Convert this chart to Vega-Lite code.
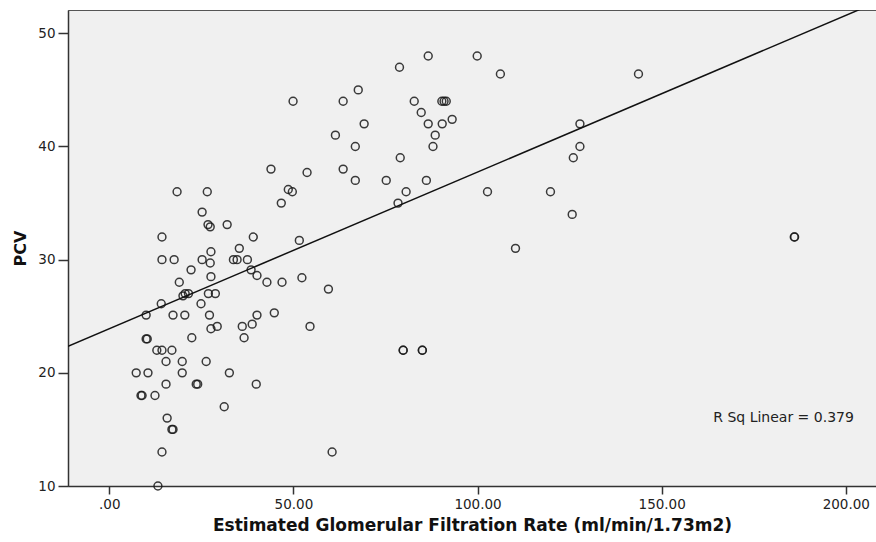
{
  "$schema": "https://vega.github.io/schema/vega-lite/v6.json",
  "width": 808,
  "height": 476,
  "autosize": {"type": "none"},
  "padding": {"left": 68, "top": 10, "right": 0, "bottom": 56},
  "background": "white",
  "config": {
    "view": {"fill": "#F0F0F0", "stroke": "#555555", "strokeWidth": 1},
    "font": "DejaVu Sans"
  },
  "datasets": {
    "pts": [
      {"egfr": 49.9, "pcv": 44.0}, {"egfr": 43.9, "pcv": 38.0}, {"egfr": 53.7, "pcv": 37.7}, {"egfr": 18.4, "pcv": 36.0},
      {"egfr": 26.6, "pcv": 36.0}, {"egfr": 48.6, "pcv": 36.2}, {"egfr": 49.7, "pcv": 36.0}, {"egfr": 46.7, "pcv": 35.0},
      {"egfr": 25.2, "pcv": 34.2}, {"egfr": 26.8, "pcv": 33.1}, {"egfr": 27.4, "pcv": 32.9}, {"egfr": 32.0, "pcv": 33.1},
      {"egfr": 14.3, "pcv": 32.0}, {"egfr": 39.1, "pcv": 32.0}, {"egfr": 51.6, "pcv": 31.7}, {"egfr": 27.6, "pcv": 30.7},
      {"egfr": 35.3, "pcv": 31.0}, {"egfr": 14.3, "pcv": 30.0}, {"egfr": 17.6, "pcv": 30.0}, {"egfr": 25.2, "pcv": 30.0},
      {"egfr": 33.7, "pcv": 30.0}, {"egfr": 34.7, "pcv": 30.0}, {"egfr": 37.5, "pcv": 30.0}, {"egfr": 27.4, "pcv": 29.7},
      {"egfr": 22.2, "pcv": 29.1}, {"egfr": 38.5, "pcv": 29.1}, {"egfr": 40.1, "pcv": 28.6}, {"egfr": 27.6, "pcv": 28.5},
      {"egfr": 19.0, "pcv": 28.0}, {"egfr": 42.8, "pcv": 28.0}, {"egfr": 46.9, "pcv": 28.0}, {"egfr": 52.3, "pcv": 28.4},
      {"egfr": 20.0, "pcv": 26.8}, {"egfr": 20.6, "pcv": 27.0}, {"egfr": 21.5, "pcv": 27.0}, {"egfr": 26.9, "pcv": 27.0},
      {"egfr": 28.8, "pcv": 27.0}, {"egfr": 59.5, "pcv": 27.4}, {"egfr": 14.1, "pcv": 26.1}, {"egfr": 24.9, "pcv": 26.1},
      {"egfr": 10.0, "pcv": 25.1}, {"egfr": 17.3, "pcv": 25.1}, {"egfr": 20.5, "pcv": 25.1}, {"egfr": 27.2, "pcv": 25.1},
      {"egfr": 40.1, "pcv": 25.1}, {"egfr": 44.8, "pcv": 25.3}, {"egfr": 27.6, "pcv": 23.9}, {"egfr": 29.3, "pcv": 24.1},
      {"egfr": 36.1, "pcv": 24.1}, {"egfr": 38.8, "pcv": 24.3}, {"egfr": 54.5, "pcv": 24.1}, {"egfr": 10.0, "pcv": 23.0},
      {"egfr": 10.3, "pcv": 23.0}, {"egfr": 22.4, "pcv": 23.1}, {"egfr": 36.6, "pcv": 23.1}, {"egfr": 12.9, "pcv": 22.0},
      {"egfr": 14.3, "pcv": 22.0}, {"egfr": 17.0, "pcv": 22.0}, {"egfr": 15.4, "pcv": 21.0}, {"egfr": 19.8, "pcv": 21.0},
      {"egfr": 26.3, "pcv": 21.0}, {"egfr": 7.3, "pcv": 20.0}, {"egfr": 10.5, "pcv": 20.0}, {"egfr": 19.8, "pcv": 20.0},
      {"egfr": 32.6, "pcv": 20.0}, {"egfr": 15.4, "pcv": 19.0}, {"egfr": 23.6, "pcv": 19.0}, {"egfr": 24.0, "pcv": 19.0},
      {"egfr": 39.9, "pcv": 19.0}, {"egfr": 8.6, "pcv": 18.0}, {"egfr": 8.9, "pcv": 18.0}, {"egfr": 12.4, "pcv": 18.0},
      {"egfr": 31.2, "pcv": 17.0}, {"egfr": 15.7, "pcv": 16.0}, {"egfr": 17.0, "pcv": 15.0}, {"egfr": 17.3, "pcv": 15.0},
      {"egfr": 14.3, "pcv": 13.0}, {"egfr": 13.2, "pcv": 10.0}, {"egfr": 60.5, "pcv": 13.0}, {"egfr": 79.8, "pcv": 22.0},
      {"egfr": 79.8, "pcv": 22.0}, {"egfr": 85.0, "pcv": 22.0}, {"egfr": 85.0, "pcv": 22.0}, {"egfr": 110.3, "pcv": 31.0},
      {"egfr": 86.6, "pcv": 48.0}, {"egfr": 99.9, "pcv": 48.0}, {"egfr": 78.8, "pcv": 47.0}, {"egfr": 106.2, "pcv": 46.4},
      {"egfr": 67.6, "pcv": 45.0}, {"egfr": 63.5, "pcv": 44.0}, {"egfr": 82.8, "pcv": 44.0}, {"egfr": 90.3, "pcv": 44.0},
      {"egfr": 90.9, "pcv": 44.0}, {"egfr": 91.5, "pcv": 44.0}, {"egfr": 84.7, "pcv": 43.0}, {"egfr": 93.1, "pcv": 42.4},
      {"egfr": 69.2, "pcv": 42.0}, {"egfr": 86.6, "pcv": 42.0}, {"egfr": 90.4, "pcv": 42.0}, {"egfr": 61.4, "pcv": 41.0},
      {"egfr": 88.5, "pcv": 41.0}, {"egfr": 66.8, "pcv": 40.0}, {"egfr": 87.9, "pcv": 40.0}, {"egfr": 79.0, "pcv": 39.0},
      {"egfr": 63.5, "pcv": 38.0}, {"egfr": 66.8, "pcv": 37.0}, {"egfr": 75.2, "pcv": 37.0}, {"egfr": 86.1, "pcv": 37.0},
      {"egfr": 80.6, "pcv": 36.0}, {"egfr": 78.4, "pcv": 35.0}, {"egfr": 102.7, "pcv": 36.0}, {"egfr": 119.8, "pcv": 36.0},
      {"egfr": 143.7, "pcv": 46.4}, {"egfr": 127.8, "pcv": 42.0}, {"egfr": 127.8, "pcv": 40.0}, {"egfr": 126.0, "pcv": 39.0},
      {"egfr": 125.7, "pcv": 34.0}, {"egfr": 186.1, "pcv": 32.0}, {"egfr": 186.0, "pcv": 32.0}
    ],
    "fit": [
      {"egfr": -11.22, "pcv": 22.35},
      {"egfr": 208.2, "pcv": 52.72}
    ],
    "note": [
      {"egfr": 164.0, "pcv": 16.05, "label": "R Sq Linear = 0.379"}
    ]
  },
  "layer": [
    {
      "data": {"name": "pts"},
      "mark": {"type": "point", "shape": "circle", "filled": false, "stroke": "#1a1a1a", "strokeWidth": 1.5, "size": 62, "opacity": 0.85},
      "encoding": {
        "x": {
          "field": "egfr", "type": "quantitative",
          "scale": {"domain": [-11.22, 208.2], "nice": false, "zero": false},
          "axis": {
            "values": [0, 50, 100, 150, 200],
            "labelExpr": "datum.value == 0 ? '.00' : format(datum.value, '.2f')",
            "title": "Estimated Glomerular Filtration Rate (ml/min/1.73m2)",
            "titleFont": "DejaVu Sans", "titleFontWeight": "bold", "titleFontSize": 17, "titleColor": "#111111",
            "titlePadding": 7,
            "labelFont": "DejaVu Sans", "labelFontSize": 13.5, "labelColor": "#222222", "labelPadding": 3,
            "tickSize": 8, "tickColor": "#333333", "tickWidth": 1.5,
            "domainColor": "#333333", "domainWidth": 1.5,
            "grid": false
          }
        },
        "y": {
          "field": "pcv", "type": "quantitative",
          "scale": {"domain": [10, 52.06], "nice": false, "zero": false},
          "axis": {
            "values": [10, 20, 30, 40, 50],
            "title": "PCV",
            "titleFont": "DejaVu Sans", "titleFontWeight": "bold", "titleFontSize": 16, "titleColor": "#111111",
            "titlePadding": 9,
            "labelFont": "DejaVu Sans", "labelFontSize": 13.5, "labelColor": "#222222", "labelPadding": 3,
            "tickSize": 10, "tickColor": "#333333", "tickWidth": 1.5,
            "domainColor": "#333333", "domainWidth": 1.5,
            "grid": false
          }
        }
      }
    },
    {
      "data": {"name": "fit"},
      "mark": {"type": "line", "color": "#111111", "strokeWidth": 1.5, "clip": true},
      "encoding": {
        "x": {"field": "egfr", "type": "quantitative"},
        "y": {"field": "pcv", "type": "quantitative"}
      }
    },
    {
      "data": {"name": "note"},
      "mark": {"type": "text", "align": "left", "baseline": "middle", "font": "DejaVu Sans", "fontSize": 14, "color": "#222222"},
      "encoding": {
        "x": {"field": "egfr", "type": "quantitative"},
        "y": {"field": "pcv", "type": "quantitative"},
        "text": {"field": "label"}
      }
    }
  ]
}
